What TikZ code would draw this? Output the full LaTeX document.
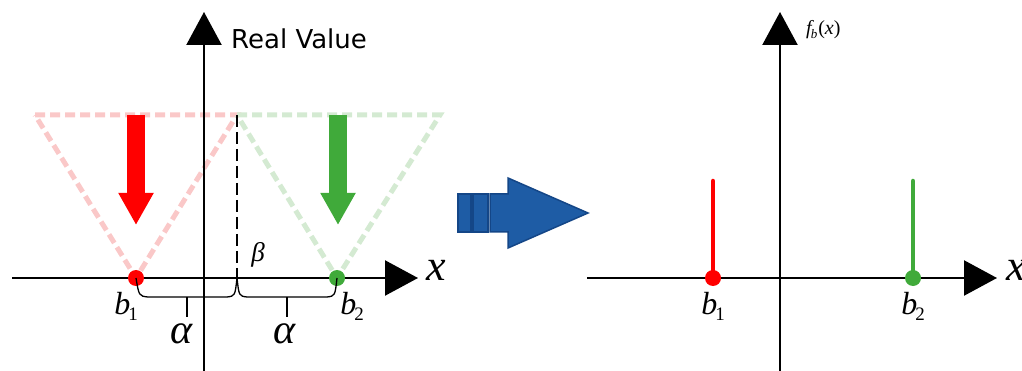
\documentclass[tikz,border=0pt]{standalone}
\usepackage{fontspec}
\newfontfamily\tnr{Liberation Serif}
\newfontfamily\dvs{DejaVu Sans}
\usetikzlibrary{arrows.meta}
\definecolor{myred}{RGB}{255,0,0}
\definecolor{mygreen}{RGB}{64,170,58}
\definecolor{myblue}{RGB}{30,92,165}
\definecolor{myblueedge}{RGB}{20,70,135}
\definecolor{fadered}{RGB}{250,200,200}
\definecolor{fadegreen}{RGB}{212,234,210}
\newcommand{\bsym}[1]{{\tnr\itshape\fontsize{32}{32}\selectfont b\kern-2pt\raisebox{-6pt}{\upshape\fontsize{19}{19}\selectfont #1}}}
\tikzset{
  axis/.style={line width=2.3pt, black, -{Triangle[length=33pt,width=35pt]}},
  dotnode/.style={circle, inner sep=0pt, minimum size=16pt},
  fadetri/.style={line width=5pt, dash pattern=on 10pt off 5pt},
  bigarrow/.style={line width=18pt, -{Triangle[length=32pt,width=33pt]}},
  stem/.style={line width=4.5pt, line cap=round},
  bracepath/.style={line width=1.3pt, black},
  lbl/.style={inner sep=0pt}
}
\begin{document}
\begin{tikzpicture}[x=1pt,y=-1pt]
\useasboundingbox (0,0) rectangle (1022,371);
% ---------- left panel ----------
\coordinate (rt1) at (35,115);
\coordinate (rt2) at (237,115);
\coordinate (gt2) at (440,115);
\coordinate (beta) at (237,278);
\node[dotnode] (b1) at (136,278) {};
\node[dotnode] (b2) at (337,278) {};
\draw[fadetri, fadered] (rt1) -- (rt2) -- (b1.center) -- cycle;
\draw[fadetri, fadegreen] (rt2) -- (gt2) -- (b2.center) -- cycle;
\coordinate (xl0) at (12,278);
\coordinate (xl1) at (418,278);
\coordinate (yl0) at (204,371);
\coordinate (yl1) at (204,12);
\draw[axis] (xl0) -- (xl1);
\draw[axis] (yl0) -- (yl1);
\draw[line width=2.6pt, dash pattern=on 12pt off 5pt] (rt2) -- (beta);
\coordinate (ra0) at (136,115);
\coordinate (ra1) at (136,225);
\coordinate (ga0) at (338,115);
\coordinate (ga1) at (338,225);
\draw[bigarrow, myred] (ra0) -- (ra1);
\draw[bigarrow, mygreen] (ga0) -- (ga1);
\node[dotnode, fill=myred] at (b1) {};
\node[dotnode, fill=mygreen] at (b2) {};
% braces
\draw[bracepath] (b1.center) .. controls (139,296) .. (148,297) -- (227,297) .. controls (235,296) .. (beta);
\draw[bracepath] (beta) .. controls (239,296) .. (247,297) -- (327,297) .. controls (335,296) .. (b2.center);
\coordinate (t1a) at (187,297);
\coordinate (t1b) at (187,317);
\coordinate (t2a) at (287,297);
\coordinate (t2b) at (287,317);
\draw[bracepath] (t1a) -- (t1b);
\draw[bracepath] (t2a) -- (t2b);
\node[lbl] (lb1) at (126,306) {\bsym{1}};
\node[lbl] (lb2) at (352,306) {\bsym{2}};
\node[lbl, font=\tnr\itshape\fontsize{42}{42}\selectfont] (al1) at (182,334) {α};
\node[lbl, font=\tnr\itshape\fontsize{42}{42}\selectfont] (al2) at (285,334) {α};
\node[lbl, font=\tnr\itshape\fontsize{27}{27}\selectfont] (bt) at (258,255) {β};
\node[lbl, font=\tnr\itshape\fontsize{44}{44}\selectfont] (xlab) at (436,270) {x};
\node[lbl, font=\dvs\fontsize{26}{26}\selectfont, anchor=west] (rv) at (231,39) {Real Value};
% ---------- blue arrow ----------
\fill[myblue, draw=myblueedge, line width=1.5pt] (458,194) rectangle (471,232);
\fill[myblue, draw=myblueedge, line width=1.5pt] (473,194) rectangle (488,232);
\fill[myblue, draw=myblueedge, line width=1.5pt, line join=miter] (490,194) -- (508,194) -- (508,178) -- (588,213) -- (508,248) -- (508,232) -- (490,232) -- cycle;
% ---------- right panel ----------
\coordinate (xr0) at (587,278);
\coordinate (xr1) at (997,278);
\coordinate (yr0) at (780,371);
\coordinate (yr1) at (780,12);
\draw[axis] (xr0) -- (xr1);
\draw[axis] (yr0) -- (yr1);
\node[dotnode] (c1) at (713,278) {};
\node[dotnode] (c2) at (913,278) {};
\coordinate (s1) at (713,181);
\coordinate (s2) at (913,181);
\draw[stem, myred] (c1.center) -- (s1);
\draw[stem, mygreen] (c2.center) -- (s2);
\node[dotnode, fill=myred] at (c1) {};
\node[dotnode, fill=mygreen] at (c2) {};
\node[lbl] (rb1) at (713,306) {\bsym{1}};
\node[lbl] (rb2) at (913,306) {\bsym{2}};
\node[lbl, font=\tnr\itshape\fontsize{44}{44}\selectfont, anchor=west] (xrlab) at (1006,270) {x};
\node[lbl, anchor=west] (fb) at (806,30) {\tnr\fontsize{20}{20}\selectfont\itshape f\kern-1pt\raisebox{-4pt}{\fontsize{13}{13}\selectfont b}\kern1pt\upshape(\itshape x\upshape)};
\end{tikzpicture}
\end{document}
